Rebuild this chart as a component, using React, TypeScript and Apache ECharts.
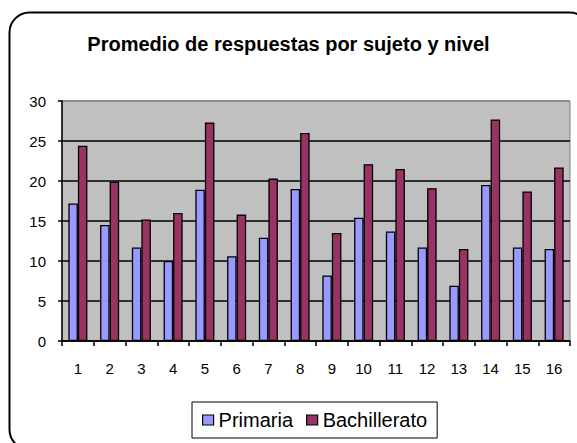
import React, { useEffect, useRef } from "react";
import * as echarts from "echarts";

const categories = ["1","2","3","4","5","6","7","8","9","10","11","12","13","14","15","16"];
const primaria = [17.2, 14.5, 11.7, 10.0, 18.9, 10.6, 12.9, 19.0, 8.2, 15.4, 13.7, 11.7, 6.9, 19.5, 11.7, 11.5];
const bachillerato = [24.4, 19.9, 15.2, 16.0, 27.3, 15.8, 20.3, 26.0, 13.5, 22.1, 21.5, 19.1, 11.5, 27.7, 18.7, 21.7];
const titleText = "Promedio de respuestas por sujeto y nivel";

export default function App() {
  const ref = useRef<HTMLDivElement>(null);
  useEffect(() => {
    if (!ref.current) return;
    const chart = echarts.init(ref.current, null, { renderer: "svg" });
    const font = "Arial, 'Liberation Sans', sans-serif";
    chart.setOption({
      animation: false,
      backgroundColor: "#ffffff",
      title: {
        text: titleText,
        left: "center",
        top: 29,
        textStyle: { fontFamily: font, fontSize: 20, fontWeight: "bold", color: "#000" },
      },
      graphic: [
        {
          type: "rect",
          silent: true,
          z: -1,
          shape: { x: 9.5, y: 12.5, width: 580, height: 437, r: 20 },
          style: { fill: "none", stroke: "#000", lineWidth: 2 },
        },
      ],
      legend: {
        left: 192,
        top: 402,
        padding: [8, 10, 8, 10],
        itemGap: 13,
        itemWidth: 11,
        itemHeight: 10,
        borderColor: "#000",
        borderWidth: 1,
        icon: "rect",
        textStyle: { fontFamily: font, fontSize: 20, color: "#000" },
        data: [
          { name: "Primaria", itemStyle: { color: "#9999FF", borderColor: "#000", borderWidth: 1.2 } },
          { name: "Bachillerato", itemStyle: { color: "#993366", borderColor: "#000", borderWidth: 1.2 } },
        ],
      },
      grid: {
        left: 62,
        right: 7,
        top: 101,
        bottom: 102,
        show: true,
        backgroundColor: "#C0C0C0",
        borderColor: "#808080",
        borderWidth: 1,
      },
      xAxis: {
        type: "category",
        data: categories,
        axisLine: { lineStyle: { color: "#000", width: 1.5 } },
        axisTick: { show: true, length: 5, lineStyle: { color: "#000", width: 1.5 } },
        axisLabel: { fontFamily: font, fontSize: 15, color: "#000", margin: 20 },
      },
      yAxis: {
        type: "value",
        min: 0,
        max: 30,
        interval: 5,
        axisLine: { show: true, lineStyle: { color: "#000", width: 1.5 } },
        axisTick: { show: true, length: 4, lineStyle: { color: "#000", width: 1.5 } },
        axisLabel: { fontFamily: font, fontSize: 15, color: "#000", margin: 16 },
        splitLine: {
          show: true,
          lineStyle: {
            color: ["#000", "#000", "#000", "#000", "#000", "#000", "#808080"],
            width: 1.5,
          },
        },
      },
      series: [
        {
          name: "Primaria",
          type: "bar",
          data: primaria,
          barGap: "0%",
          barCategoryGap: "40%",
          itemStyle: { color: "#9999FF", borderColor: "#000", borderWidth: 1.3 },
        },
        {
          name: "Bachillerato",
          type: "bar",
          data: bachillerato,
          barGap: "0%",
          barCategoryGap: "40%",
          itemStyle: { color: "#993366", borderColor: "#000", borderWidth: 1.3 },
        },
      ],
    });
    return () => chart.dispose();
  }, []);
  return (
    <div
      ref={ref}
      style={{ position: "fixed", left: 0, top: 0, width: 577, height: 443 }}
    />
  );
}
